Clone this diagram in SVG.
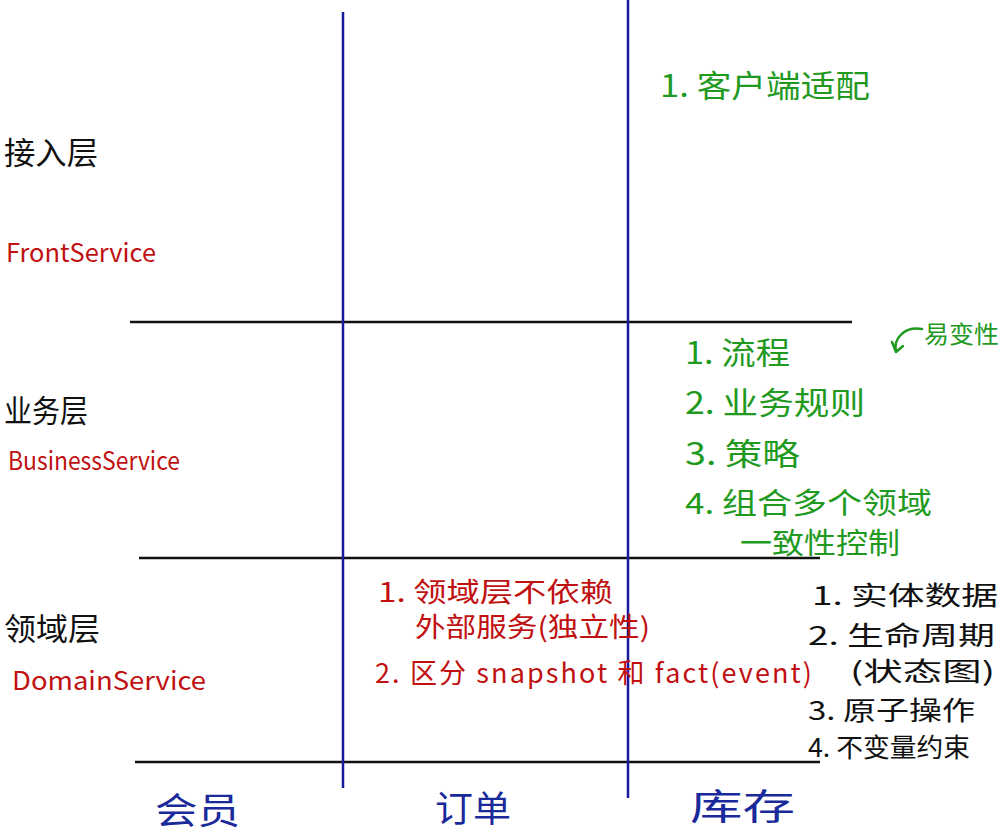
<svg xmlns="http://www.w3.org/2000/svg" width="1000" height="836" viewBox="0 0 1000 836">
<style>
text{font-family:"Noto Sans CJK SC","Liberation Sans",sans-serif;}
.blk{fill:#111;font-size:31px;}
.red{fill:#c01010;font-size:25px;}
.grn{fill:#1f9a1f;font-size:31px;}
.rdn{fill:#c01010;font-size:27px;}
.blu{fill:#1a2a9a;font-size:36px;}
.hl{stroke:#111;stroke-width:2.5;}
.vl{stroke:#1a1aa0;stroke-width:2.5;}
.lst{font-size:26px;}
</style>
<rect width="1000" height="836" fill="#fff"/>
<g id="connectors" fill="none">
<line class="hl" x1="130" y1="322" x2="852" y2="322"/>
<line class="hl" x1="139" y1="558" x2="820" y2="558"/>
<line class="hl" x1="135" y1="762" x2="820" y2="762"/>
<line class="vl" x1="343" y1="12" x2="343" y2="788"/>
<line class="vl" x1="628" y1="0" x2="628" y2="798"/>
<path d="M922,329 C905,326 893,338 896,352 M896,352 L892,342 M896,352 L903,346" stroke="#1f9a1f" stroke-width="2.5" stroke-linecap="round"/>
</g>
<g id="access-layer">
<text class="blk" x="4" y="164" textLength="94" lengthAdjust="spacingAndGlyphs">接入层</text>
<text class="red" x="6" y="262" textLength="150" lengthAdjust="spacingAndGlyphs">FrontService</text>
</g>
<g id="business-layer">
<text class="blk" x="4" y="422" textLength="84" lengthAdjust="spacingAndGlyphs">业务层</text>
<text class="red" x="8" y="470" textLength="172" lengthAdjust="spacingAndGlyphs">BusinessService</text>
</g>
<g id="domain-layer">
<text class="blk" x="4" y="640" textLength="96" lengthAdjust="spacingAndGlyphs">领域层</text>
<text class="red" x="12" y="690" textLength="194" lengthAdjust="spacingAndGlyphs">DomainService</text>
</g>
<g id="access-notes">
<text class="grn" x="660" y="97" textLength="210" lengthAdjust="spacingAndGlyphs">1.  客户端适配</text>
</g>
<g id="business-notes">
<text class="grn" x="685" y="364" textLength="105" lengthAdjust="spacingAndGlyphs">1.  流程</text>
<text class="grn" x="685" y="414" textLength="180" lengthAdjust="spacingAndGlyphs">2.  业务规则</text>
<text class="grn" x="685" y="465" textLength="115" lengthAdjust="spacingAndGlyphs">3.  策略</text>
<text class="grn" x="685" y="514" style="font-size:29px" textLength="247" lengthAdjust="spacingAndGlyphs">4.  组合多个领域</text>
<text class="grn" x="740" y="554" style="font-size:29px" textLength="160" lengthAdjust="spacingAndGlyphs">一致性控制</text>
</g>
<g id="volatility-note">
<text class="grn" x="924" y="343" style="font-size:24px" textLength="75" lengthAdjust="spacingAndGlyphs">易变性</text>
</g>
<g id="domain-notes">
<text class="rdn" x="378" y="602" textLength="235" lengthAdjust="spacingAndGlyphs">1.  领域层不依赖</text>
<text class="rdn" x="415" y="637" textLength="235" lengthAdjust="spacingAndGlyphs">外部服务(独立性)</text>
<text class="rdn" x="375" y="683" textLength="437" lengthAdjust="spacing">2.  区分 snapshot 和 fact(event)</text>
</g>
<g id="domain-features">
<text class="blk lst" x="812" y="605" textLength="186" lengthAdjust="spacingAndGlyphs">1.  实体数据</text>
<text class="blk lst" x="808" y="645" textLength="187" lengthAdjust="spacingAndGlyphs">2.  生命周期</text>
<text class="blk lst" x="850" y="681" textLength="145" lengthAdjust="spacingAndGlyphs">(状态图)</text>
<text class="blk lst" x="808" y="720" textLength="167" lengthAdjust="spacingAndGlyphs">3.  原子操作</text>
<text class="blk lst" x="808" y="757" textLength="162" lengthAdjust="spacingAndGlyphs">4.  不变量约束</text>
</g>
<g id="member"><text class="blu" x="155" y="824" textLength="85" lengthAdjust="spacingAndGlyphs">会员</text></g>
<g id="order"><text class="blu" x="435" y="822" textLength="76" lengthAdjust="spacingAndGlyphs">订单</text></g>
<g id="inventory"><text class="blu" x="690" y="820" textLength="105" lengthAdjust="spacingAndGlyphs">库存</text></g>
</svg>
